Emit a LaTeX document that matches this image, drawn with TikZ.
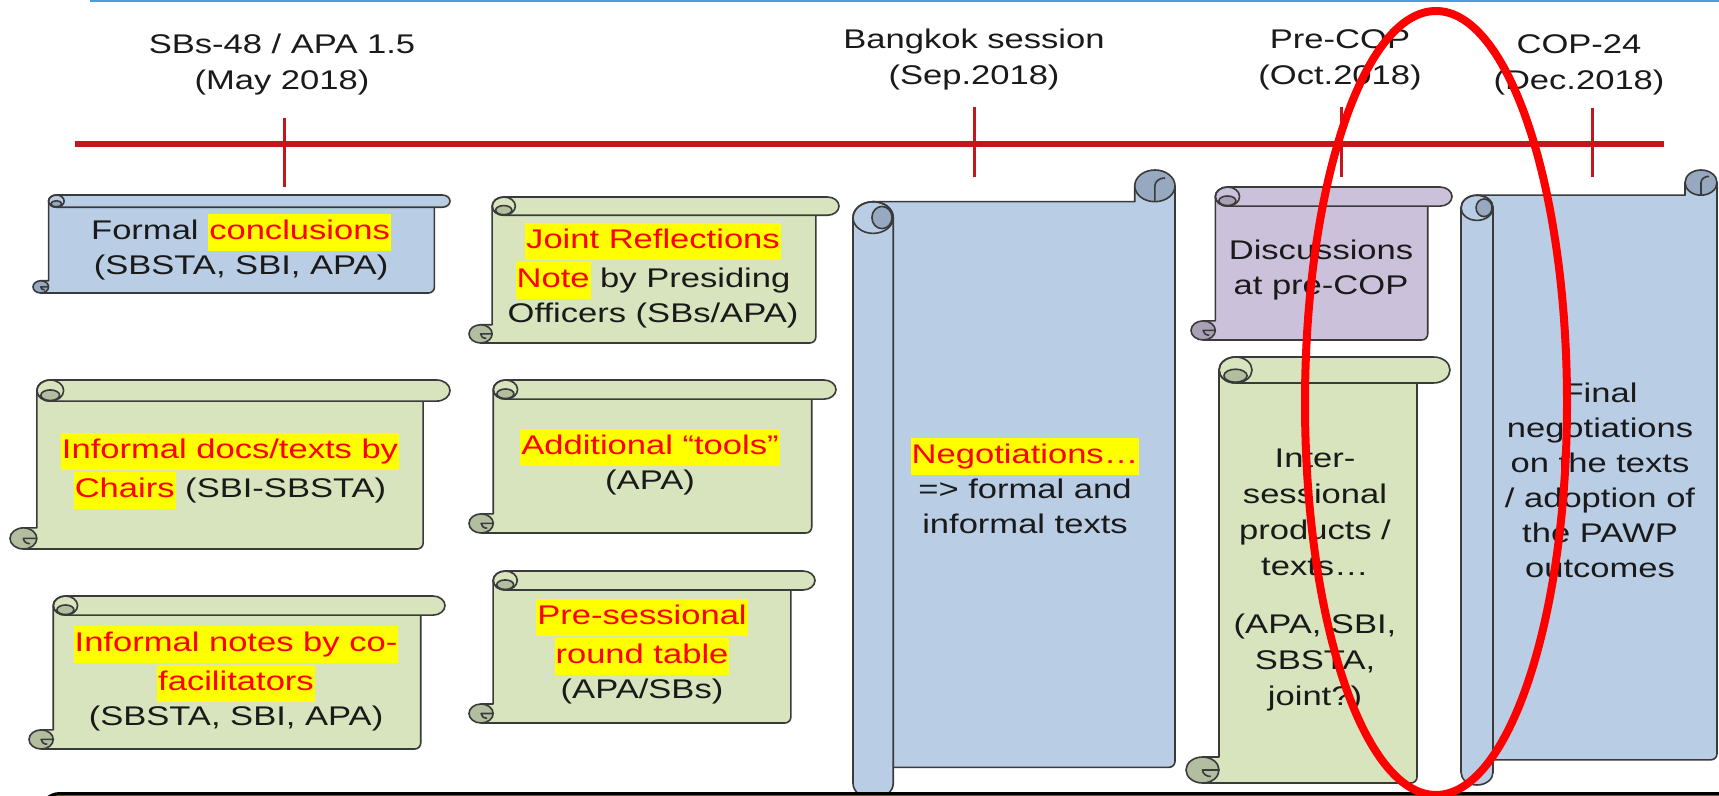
\documentclass[tikz,border=0pt]{standalone}
\usepackage{fontspec}
\setmainfont{Liberation Sans}[FakeStretch=1.28]
\usepackage{tikz}
\usetikzlibrary{calc}
\definecolor{ink}{HTML}{1A1A1A}
\definecolor{scrollEdge}{HTML}{3A3A3A}
\definecolor{blueFill}{HTML}{B9CDE5}
\definecolor{blueDark}{HTML}{96A9C0}
\definecolor{greenFill}{HTML}{D7E4BD}
\definecolor{greenDark}{HTML}{B3BEA0}
\definecolor{purpleFill}{HTML}{CCC1DA}
\definecolor{purpleDark}{HTML}{A9A0B6}
\definecolor{tlRed}{HTML}{C4161C}
\definecolor{topBlue}{HTML}{4F9BE0}
\definecolor{markRed}{HTML}{FF0000}
\definecolor{hlYellow}{HTML}{FFFF00}
\definecolor{oliveBar}{HTML}{6E6E12}
\tikzset{scrollline/.style={draw=scrollEdge,line width=0.8pt,line join=round},
  tl/.style={tlRed,line width=2.75pt},
  tick/.style={tlRed,line width=1.5pt},
  datelab/.style={font=\fontsize{13.5}{18}\selectfont,text=ink,align=center,inner sep=0pt},
  scrtxt/.style={font=\fontsize{13.5}{17.5}\selectfont,text=ink,align=center,inner sep=0pt},
  tallscr/.style={scrtxt,font=\fontsize{13.5}{18}\selectfont},
  focus/.style={markRed,line width=4pt}}
\newcommand{\hl}[1]{{\setlength{\fboxsep}{0.5pt}\colorbox{hlYellow}{\strut\textcolor{markRed}{#1}}}}
% scroll rolled at top and bottom left: L T R B fill dark
\newcommand{\hscroll}[6]{%
  \pgfmathsetmacro\scrY{min((#3-#1)/1.27,#4-#2)/8}%
  \pgfmathsetmacro\scrX{1.27*\scrY}%
  \pgfmathsetmacro\scrHX{\scrX/2}\pgfmathsetmacro\scrHY{\scrY/2}%
  \filldraw[scrollline,fill=#5] (#1+\scrX,#2+\scrHY) -- (#1+\scrX,#4-\scrY) -- (#1+\scrHX,#4-\scrY) -- (#1+\scrHX,#4) {[rounded corners=3pt] -- (#3-\scrX,#4) -- (#3-\scrX,#2+\scrHY)} -- cycle;
  \filldraw[scrollline,fill=#6] (#1+\scrHX,#4-\scrHY) ellipse[x radius=\scrHX,y radius=\scrHY];
  \draw[scrollline] (#1+\scrX,#4-\scrHY) -- (#1+\scrHX,#4-\scrHY) arc[start angle=180,end angle=90,x radius=\scrHX/2,y radius=\scrHY/2];
  \filldraw[scrollline,fill=#5] (#1+\scrX+\scrHX,#2) -- (#3-\scrHX,#2) arc[start angle=-90,end angle=90,x radius=\scrHX,y radius=\scrHY] -- (#1+\scrX+\scrHX,#2+\scrY) arc[start angle=90,end angle=270,x radius=\scrHX,y radius=\scrHY] -- cycle;
  \draw[scrollline] (#1+\scrX+\scrHX,#2+\scrHY) ellipse[x radius=\scrHX,y radius=\scrHY];
  \filldraw[scrollline,fill=#6] (#1+\scrX+\scrHX,#2+\scrY*0.72) ellipse[x radius=\scrHX*0.7,y radius=\scrHY/2];}
% scroll rolled at left and top right: L T R B fill dark
\newcommand{\vscroll}[6]{%
  \pgfmathsetmacro\scrY{min((#3-#1)/1.27,#4-#2)/8}%
  \pgfmathsetmacro\scrX{1.27*\scrY}%
  \pgfmathsetmacro\scrHX{\scrX/2}\pgfmathsetmacro\scrHY{\scrY/2}%
  \filldraw[scrollline,fill=#5] (#1+\scrHX,#2+\scrY) -- (#3-\scrX,#2+\scrY) -- (#3-\scrX,#2+\scrHY) -- (#3,#2+\scrHY) {[rounded corners=3pt] -- (#3,#4-\scrY) -- (#1+\scrHX,#4-\scrY)} -- cycle;
  \filldraw[scrollline,fill=#6] (#3-\scrHX,#2+\scrHY) ellipse[x radius=\scrHX,y radius=\scrHY];
  \draw[scrollline] (#3-\scrHX,#2+\scrY) -- (#3-\scrHX,#2+\scrHY) arc[start angle=180,end angle=270,x radius=\scrHX/2,y radius=\scrHY/2];
  \filldraw[scrollline,fill=#5] (#1,#2+\scrY+\scrHY) -- (#1,#4-\scrHY) arc[start angle=180,end angle=0,x radius=\scrHX,y radius=\scrHY] -- (#1+\scrX,#2+\scrY+\scrHY) arc[start angle=0,end angle=-180,x radius=\scrHX,y radius=\scrHY] -- cycle;
  \draw[scrollline] (#1+\scrHX,#2+\scrY+\scrHY) ellipse[x radius=\scrHX,y radius=\scrHY];
  \filldraw[scrollline,fill=#6] (#1+\scrX*0.72,#2+\scrY+\scrHY) ellipse[x radius=\scrHX/2,y radius=\scrHY*0.7];}
\begin{document}
\begin{tikzpicture}[x=0.5pt,y=-0.5pt]
\useasboundingbox (0,0) rectangle (1719,796);
\fill[white] (0,0) rectangle (1719,796);
\clip (0,0) rectangle (1719,796);
\draw[topBlue,line width=1.2pt] (90,1) -- (1719,1);
% timeline
\draw[tl] (75,144) -- (1664,144);
\draw[tick] (284,118) -- (284,187);\draw[tick] (974,107) -- (974,177);
\draw[tick] (1341,107) -- (1341,177);\draw[tick] (1592,108) -- (1592,177);
\node[datelab] (lbSB) at (282,65) {SBs-48 / APA 1.5\\(May 2018)};
\node[datelab] (lbBKK) at (974,60) {Bangkok session\\(Sep.2018)};
\node[datelab] (lbPre) at (1340,60) {Pre-COP\\(Oct.2018)};
\node[datelab] (lbCOP) at (1579,65) {COP-24\\(Dec.2018)};
% scrolls
\hscroll{33}{195}{450}{293}{blueFill}{blueDark}
\hscroll{469}{197}{839}{343}{greenFill}{greenDark}
\hscroll{10}{380}{450}{549}{greenFill}{greenDark}
\hscroll{469}{380}{836}{533}{greenFill}{greenDark}
\hscroll{29}{596}{445}{749}{greenFill}{greenDark}
\hscroll{469}{571}{815}{723}{greenFill}{greenDark}
\vscroll{853}{170}{1175}{799}{blueFill}{blueDark}
\hscroll{1191}{187}{1452}{340}{purpleFill}{purpleDark}
\hscroll{1186}{357}{1450}{783}{greenFill}{greenDark}
\vscroll{1461}{170}{1717}{785}{blueFill}{blueDark}
\node[scrtxt] (formal) at (241,247) {Formal \hl{conclusions}\\(SBSTA, SBI, APA)};
\node[scrtxt] (joint) at (653,276) {\hl{Joint Reflections}\\\hl{Note} by Presiding\\Officers (SBs/APA)};
\node[scrtxt] (chairs) at (230,471) {\hl{Informal docs/texts by}\\\hl{Chairs} (SBI-SBSTA)};
\node[scrtxt] (tools) at (650,462) {\hl{Additional “tools”}\\(APA)};
\node[scrtxt] (cofac) at (236,679) {\hl{Informal notes by co-}\\\hl{facilitators}\\(SBSTA, SBI, APA)};
\node[scrtxt] (roundtab) at (642,652) {\hl{Pre-sessional}\\\hl{round table}\\(APA/SBs)};
\node[scrtxt] (negot) at (1025,486) {\hl{Negotiations…}\\=> formal and\\informal texts};
\node[scrtxt] (precop) at (1321,270) {Discussions\\at pre-COP};
\node[tallscr] (inter) at (1315,580) {Inter-\\sessional\\products /\\texts…\\[11pt](APA, SBI,\\SBSTA,\\joint?)};
\node[scrtxt] (final) at (1600,480) {Final\\negotiations\\on the texts\\/ adoption of\\the PAWP\\outcomes};
% bottom bar and mark
\draw[line width=1.5pt,fill=oliveBar,rounded corners=10pt] (40,793.5) rectangle (1780,860);
\draw[focus] (1436,403) ellipse[x radius=131,y radius=392];
\end{tikzpicture}
\end{document}
